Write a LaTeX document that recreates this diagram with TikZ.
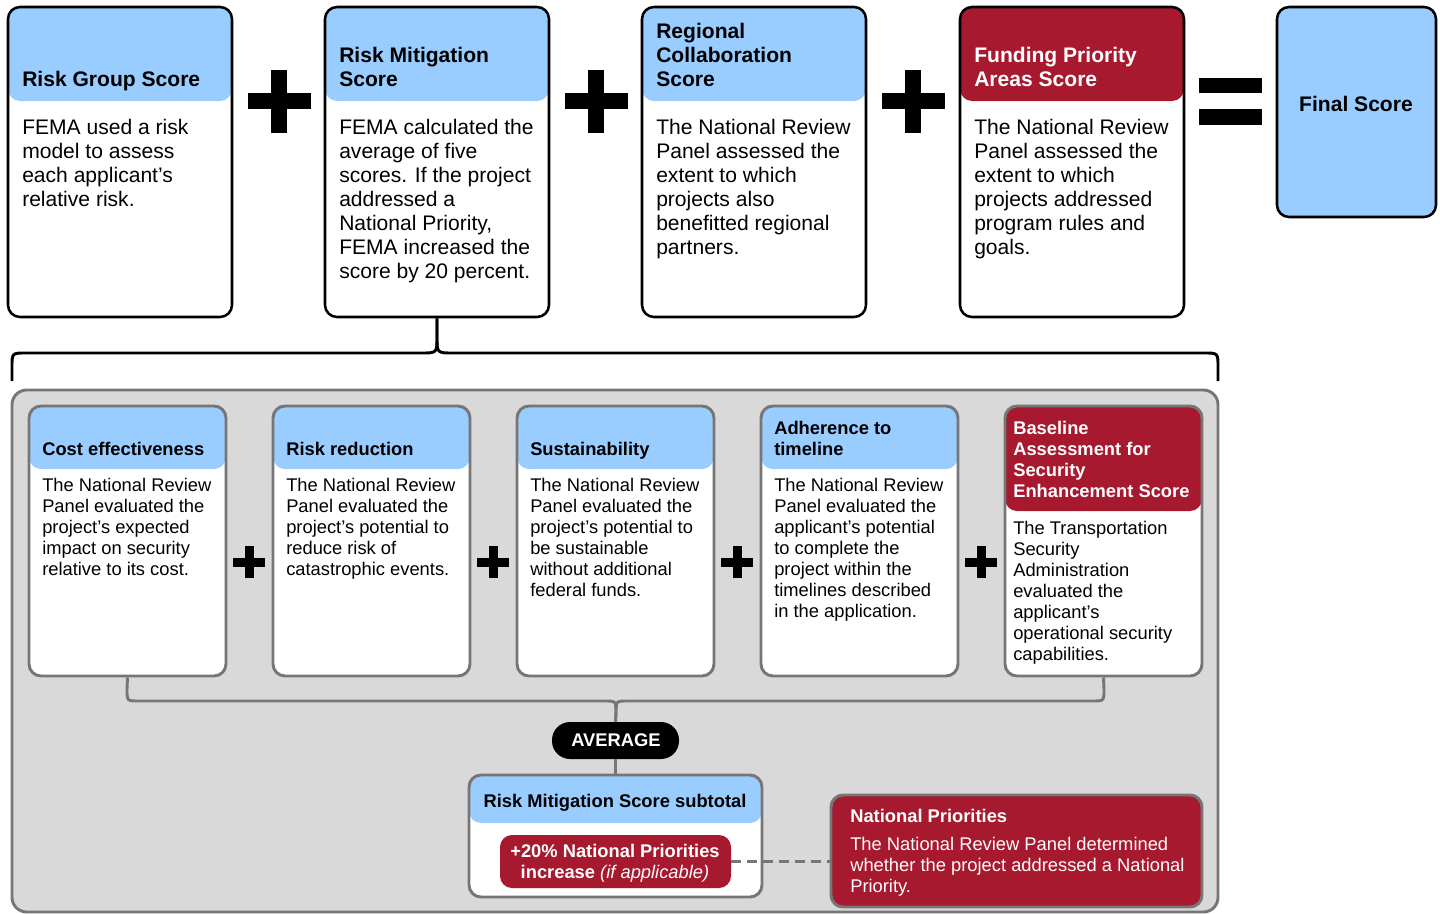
\documentclass[tikz,border=0pt]{standalone}
\usepackage{fontspec}
\setmainfont{Liberation Sans}
\usetikzlibrary{fit}
\definecolor{grantblue}{RGB}{153, 204, 255}
\definecolor{grantred}{RGB}{166, 25, 46}
\definecolor{grantgray}{RGB}{217, 217, 217}
\definecolor{grantedge}{RGB}{118, 118, 118}

\begin{document}
\begin{tikzpicture}[
    x=0.75pt, y=-0.75pt,
    card/.style={
        rectangle,
        rounded corners=9pt,
        draw=black,
        line width=1.9pt,
        fill=white,
        inner sep=0pt
    },
    smallcard/.style={
        rectangle,
        rounded corners=9pt,
        draw=grantedge,
        line width=2.2pt,
        fill=white,
        inner sep=0pt
    },
    header/.style 2 args={
        path picture={\fill[#2] (path picture bounding box.north west) rectangle ([yshift=-#1*0.75pt]path picture bounding box.north east);}
    },
    cardtitle/.style={
        font=\fontsize{15.8}{18}\selectfont\bfseries,
        align=left, anchor=south west, inner sep=0pt,
        execute at end node=\strut
    },
    cardtext/.style={
        font=\fontsize{15.8}{18}\selectfont,
        align=left, anchor=north west, inner sep=0pt,
        execute at begin node=\strut
    },
    smalltitle/.style={
        font=\fontsize{13.75}{15.75}\selectfont\bfseries,
        align=left, anchor=south west, inner sep=0pt,
        execute at end node=\strut
    },
    smalltext/.style={
        font=\fontsize{13.75}{15.75}\selectfont,
        align=left, anchor=north west, inner sep=0pt,
        execute at begin node=\strut
    },
    bracket/.style={line width=2.2pt, black},
    joiner/.style={line width=2.2pt, grantedge}
]
\useasboundingbox (0,0) rectangle (1440,914);

% Top row cards
\node[card, header={94}{grantblue}, fit={(8,7) (232,317)}] (riskgroup) {};
\node[card, header={94}{grantblue}, fit={(325,7) (549,317)}] (riskmit) {};
\node[card, header={94}{grantblue}, fit={(642,7) (866,317)}] (regional) {};
\node[card, header={94}{grantred}, fit={(960,7) (1184,317)}] (funding) {};
\node[card, fill=grantblue, fit={(1277,7) (1436,217)}] (final) {};

\node[cardtitle] (riskgrouptitle) at (22,94) {Risk Group Score};
\node[cardtitle] (riskmittitle) at (339,94) {Risk Mitigation\\Score};
\node[cardtitle] (regionaltitle) at (656,94) {Regional\\Collaboration\\Score};
\node[cardtitle, text=white] (fundingtitle) at (974,94) {Funding Priority\\Areas Score};
\node[font=\fontsize{15.8}{18}\selectfont\bfseries] (finaltitle) at (1356,104) {Final Score};

\node[cardtext] (riskgrouptext) at (22,119) {FEMA used a risk\\model to assess\\each applicant’s\\relative risk.};
\node[cardtext] (riskmittext) at (339,119) {FEMA calculated the\\average of five\\scores. If the project\\addressed a\\National Priority,\\FEMA increased the\\score by 20 percent.};
\node[cardtext] (regionaltext) at (656,119) {The National Review\\Panel assessed the\\extent to which\\projects also\\benefitted regional\\partners.};
\node[cardtext] (fundingtext) at (974,119) {The National Review\\Panel assessed the\\extent to which\\projects addressed\\program rules and\\goals.};

% Plus and equal signs
\foreach \x in {279, 596, 913} {
    \fill (\x-31.5,93) rectangle (\x+31.5,109);
    \fill (\x-8,69.5) rectangle (\x+8,132.5);
}
\fill (1199,78) rectangle (1262,93);
\fill (1199,109) rectangle (1262,125);

% Gray panel
\node[rectangle, rounded corners=11pt, draw=grantedge, line width=2.2pt, fill=grantgray, inner sep=0pt, fit={(12,390) (1218,912)}] (panel) {};

% Brace from the risk mitigation card
\coordinate (braceleft) at (12,381);
\coordinate (braceright) at (1218,381);
\draw[bracket] (braceleft) -- (12,367) .. controls (12,353) .. (26,353) -- (421,353) .. controls (437,353) .. (437,337) -- (riskmit.south);
\draw[bracket] (riskmit.south) -- (437,337) .. controls (437,353) .. (453,353) -- (1204,353) .. controls (1218,353) .. (1218,367) -- (braceright);

% Lower cards
\node[smallcard, header={63}{grantblue}, fit={(29,406) (226,676)}] (cost) {};
\node[smallcard, header={63}{grantblue}, fit={(273,406) (470,676)}] (reduction) {};
\node[smallcard, header={63}{grantblue}, fit={(517,406) (714,676)}] (sustain) {};
\node[smallcard, header={63}{grantblue}, fit={(761,406) (958,676)}] (timeline) {};
\node[smallcard, header={105}{grantred}, fit={(1005,406) (1202,676)}] (baseline) {};

\node[smalltitle] (costtitle) at (42,462) {Cost effectiveness};
\node[smalltitle] (reductiontitle) at (286,462) {Risk reduction};
\node[smalltitle] (sustaintitle) at (530,462) {Sustainability};
\node[smalltitle] (timelinetitle) at (774,462) {Adherence to\\timeline};
\node[smalltitle, text=white] (baselinetitle) at (1013,504) {Baseline\\Assessment for\\Security\\Enhancement Score};

\node[smalltext] (costtext) at (42,478) {The National Review\\Panel evaluated the\\project’s expected\\impact on security\\relative to its cost.};
\node[smalltext] (reductiontext) at (286,478) {The National Review\\Panel evaluated the\\project’s potential to\\reduce risk of\\catastrophic events.};
\node[smalltext] (sustaintext) at (530,478) {The National Review\\Panel evaluated the\\project’s potential to\\be sustainable\\without additional\\federal funds.};
\node[smalltext] (timelinetext) at (774,478) {The National Review\\Panel evaluated the\\applicant’s potential\\to complete the\\project within the\\timelines described\\in the application.};
\node[smalltext] (baselinetext) at (1013,521) {The Transportation\\Security\\Administration\\evaluated the\\applicant’s\\operational security\\capabilities.};

\foreach \x in {249, 493, 737, 981} {
    \fill (\x-16,557.5) rectangle (\x+16,566.5);
    \fill (\x-4.5,546) rectangle (\x+4.5,578);
}

% Average and subtotal
\node[rectangle, rounded corners=13.5pt, fill=black, inner sep=0pt, fit={(552,722) (679,759)}] (average) {};
\node[text=white, font=\fontsize{13.75}{15.75}\selectfont\bfseries] (averagetext) at (616,740.5) {AVERAGE};
\node[smallcard, header={48}{grantblue}, fit={(469,775) (762,897)}] (subtotal) {};
\node[font=\fontsize{13.75}{15.75}\selectfont\bfseries] (subtotaltitle) at (615,803) {Risk Mitigation Score subtotal};
\node[rectangle, rounded corners=9pt, fill=grantred, inner sep=0pt, fit={(500,835) (731,888)}] (increase) {};
\node[text=white, inner sep=0pt, align=center, font=\fontsize{13.75}{15.75}\selectfont\bfseries] (increasetext) at (615,863) {+20\% National Priorities\\increase {\mdseries\itshape (if applicable)}};

\draw[joiner] (cost.south) -- (127,689) .. controls (127,701) .. (139,701) -- (604,701) .. controls (616,701) .. (616,713) -- (average.north);
\draw[joiner] (average.north) -- (616,713) .. controls (616,701) .. (628,701) -- (1092,701) .. controls (1104,701) .. (1104,689) -- (baseline.south);
\draw[joiner] (average.south) -- (subtotal.north);

% National priorities
\node[rectangle, rounded corners=9pt, draw=grantedge, line width=2.2pt, fill=grantred, inner sep=0pt, fit={(831,795) (1202,907)}] (priorities) {};
\node[smalltext, font=\fontsize{13.75}{15.75}\selectfont\bfseries, text=white] (prioritiestitle) at (850,808) {National Priorities};
\node[smalltext, text=white] (prioritiestext) at (850,837) {The National Review Panel determined\\whether the project addressed a National\\Priority.};
\draw[joiner, dash pattern=on 7pt off 5pt] (increase.east) -- (increase.east -| priorities.west);

\end{tikzpicture}
\end{document}
